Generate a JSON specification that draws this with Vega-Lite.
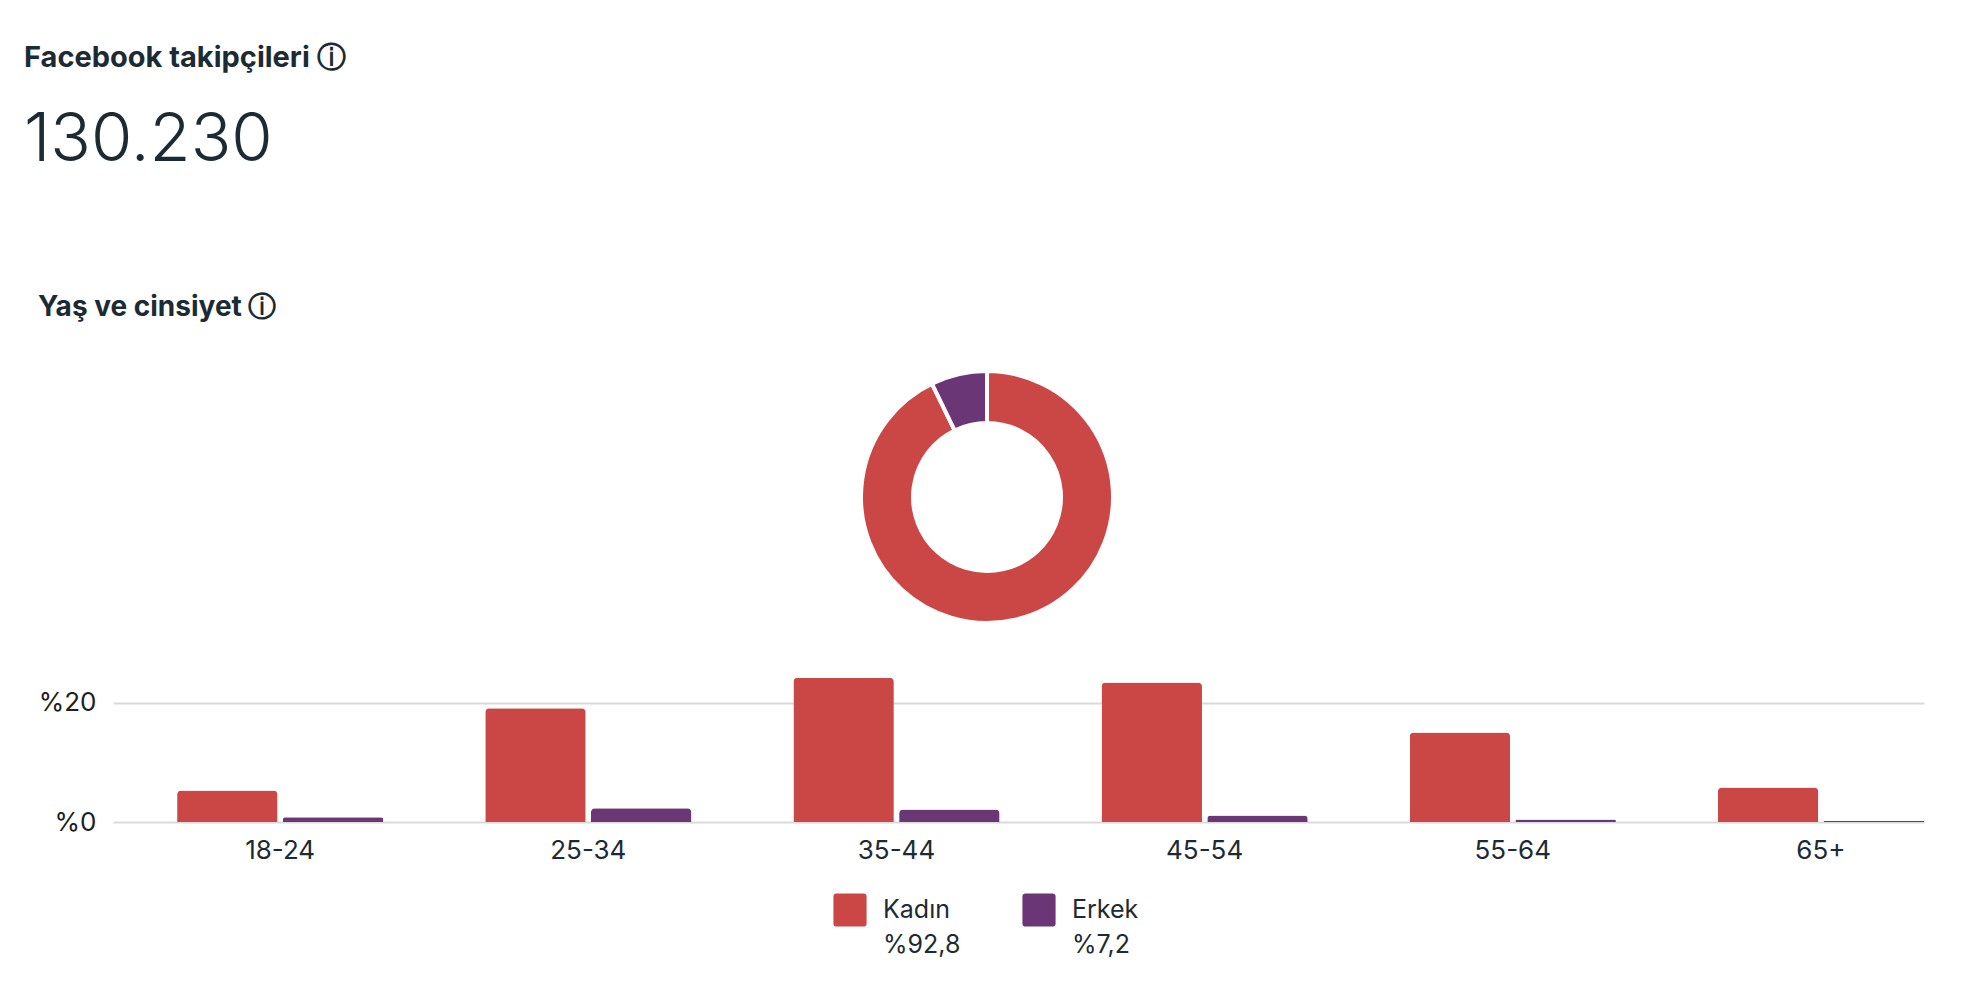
{
  "$schema": "https://vega.github.io/schema/vega-lite/v6.json",
  "background": "white",
  "padding": {"left": 24, "top": 44, "right": 0, "bottom": 0},
  "title": {
    "text": "Facebook takipçileri ⓘ",
    "subtitle": "130.230",
    "anchor": "start",
    "dx": -14,
    "font": "Inter",
    "fontSize": 29,
    "fontWeight": "bold",
    "color": "#1c2b33",
    "subtitleFont": "Inter",
    "subtitleFontSize": 67,
    "subtitleFontWeight": 300,
    "subtitleColor": "#1c2b33",
    "subtitlePadding": 35,
    "offset": 120
  },
  "datasets": {
    "ages": [
      {"age": "18-24", "g": "Kadın", "pct": 5.3},
      {"age": "18-24", "g": "Erkek", "pct": 0.8},
      {"age": "25-34", "g": "Kadın", "pct": 19.1},
      {"age": "25-34", "g": "Erkek", "pct": 2.3},
      {"age": "35-44", "g": "Kadın", "pct": 24.2},
      {"age": "35-44", "g": "Erkek", "pct": 2.1},
      {"age": "45-54", "g": "Kadın", "pct": 23.4},
      {"age": "45-54", "g": "Erkek", "pct": 1.1},
      {"age": "55-64", "g": "Kadın", "pct": 15.0},
      {"age": "55-64", "g": "Erkek", "pct": 0.4},
      {"age": "65+", "g": "Kadın", "pct": 5.8},
      {"age": "65+", "g": "Erkek", "pct": 0.2}
    ],
    "totals": [
      {"g": "Kadın", "pct": 92.8},
      {"g": "Erkek", "pct": 7.2}
    ]
  },
  "spacing": 42,
  "vconcat": [
    {
      "width": 1748,
      "height": 252,
      "title": {
        "text": "Yaş ve cinsiyet ⓘ",
        "anchor": "start",
        "dx": -75,
        "font": "Inter",
        "fontSize": 28,
        "fontWeight": "bold",
        "color": "#1c2b33",
        "offset": 41
      },
      "data": {"name": "totals"},
      "mark": {"type": "arc", "outerRadius": 126, "innerRadius": 74, "stroke": "white", "strokeWidth": 4},
      "encoding": {
        "theta": {"field": "pct", "type": "quantitative", "stack": true},
        "order": {"field": "pct", "sort": "descending"},
        "color": {
          "field": "g",
          "type": "nominal",
          "scale": {"domain": ["Kadın", "Erkek"], "range": ["#cb4745", "#6b3676"]},
          "legend": null
        }
      }
    },
    {
      "width": 1811,
      "height": 149,
      "data": {"name": "ages"},
      "mark": {"type": "bar", "cornerRadiusTopLeft": 4, "cornerRadiusTopRight": 4},
      "encoding": {
        "x": {
          "field": "age",
          "type": "nominal",
          "sort": null,
          "scale": {"paddingInner": 0.331, "paddingOuter": 0.104, "align": 1},
          "axis": {
            "title": null,
            "labelAngle": 0,
            "domain": false,
            "ticks": false,
            "grid": false,
            "labelPadding": 15,
            "labelFontSize": 26,
            "labelColor": "#1c2b33"
          }
        },
        "xOffset": {"field": "g", "sort": ["Kadın", "Erkek"], "scale": {"paddingInner": 0.05}},
        "y": {
          "field": "pct",
          "type": "quantitative",
          "scale": {"domain": [0, 25]},
          "axis": {
            "title": null,
            "values": [0, 20],
            "labelExpr": "'%' + datum.value",
            "domain": false,
            "ticks": false,
            "labelPadding": 17,
            "labelFontSize": 26,
            "labelColor": "#1c1e21",
            "gridColor": "#dadada",
            "gridWidth": 2
          }
        },
        "color": {
          "field": "g",
          "type": "nominal",
          "scale": {"domain": ["Kadın", "Erkek"], "range": ["#cb4745", "#6b3676"]},
          "legend": {
            "orient": "none",
            "legendX": 720,
            "legendY": 220,
            "direction": "horizontal",
            "title": null,
            "padding": 0,
            "labelExpr": "datum.label == 'Kadın' ? ['Kadın', '%92,8'] : ['Erkek', '%7,2']",
            "symbolType": "M-0.81,-1H0.81Q1,-1 1,-0.81V0.81Q1,1 0.81,1H-0.81Q-1,1 -1,0.81V-0.81Q-1,-1 -0.81,-1Z",
            "symbolSize": 1100,
            "symbolStrokeWidth": 0,
            "symbolOpacity": 1,
            "labelFont": "Inter",
            "labelFontSize": 25,
            "labelColor": "#1c2b33",
            "labelOffset": 16,
            "columnPadding": 61
          }
        }
      }
    }
  ],
  "resolve": {"legend": {"color": "independent"}},
  "config": {
    "font": "Inter",
    "view": {"stroke": null},
    "axis": {"labelFont": "Inter"},
    "style": {"guide-label": {"lineHeight": 35}}
  }
}
